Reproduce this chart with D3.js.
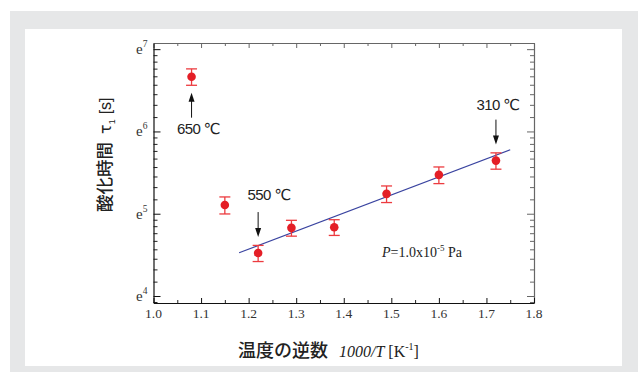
<!DOCTYPE html>
<html>
<head>
<meta charset="utf-8">
<script src="https://cdn.jsdelivr.net/npm/d3@7"></script>
<style>
  body { margin: 0; background: #fff; }
  svg { display: block; }
</style>
</head>
<body>
<svg id="chart" width="638" height="372"></svg>
<script>
// values
const invT = [1.08, 1.15, 1.22, 1.29, 1.38, 1.49, 1.60, 1.72];   // 1000/T [1/K]
const tau = [785, 165, 92, 125, 126, 189, 238, 283];             // oxidation time [s]
const tauErr = [78, 17, 9, 12, 12, 19, 24, 28];
const fitX = [1.18, 1.75];
const fitTau = [92.4, 323];
const xTicks = [1.0, 1.1, 1.2, 1.3, 1.4, 1.5, 1.6, 1.7, 1.8];
const xMinor = [1.05, 1.15, 1.25, 1.35, 1.45, 1.55, 1.65, 1.75];
const yTickExps = [4, 5, 6, 7];
const notes = [
    { i: 0, label: "650 ℃", dir: 1, dx: 7 },
    { i: 2, label: "550 ℃", dir: -1, dx: 11 },
    { i: 7, label: "310 ℃", dir: -1, dx: 2 }
];

const svg = d3.select("#chart");
const pLeft = 153.5, pRight = 534, pTop = 43, pBottom = 303;

// page frame
svg.append("rect").attr("x", 10).attr("y", 11).attr("width", 628).attr("height", 361).attr("fill", "#e6e7e8");
svg.append("rect").attr("x", 25).attr("y", 29).attr("width", 597).attr("height", 337).attr("fill", "#fff");

const x = d3.scaleLinear().domain([1.0, 1.8]).range([pLeft, pRight]);
const y = d3.scaleLog().base(Math.E)
    .domain([Math.exp(3.915), Math.exp(7.075)])
    .range([pBottom, pTop]);

// minor y ticks: 8 linear steps between powers of e
const yMinor = [];
for (let k = 3; k <= 7; k++) {
    const a = Math.exp(k), b = Math.exp(k + 1);
    for (let n = 1; n <= 8; n++) {
        const v = a + n * (b - a) / 9;
        if (v > y.domain()[0] && v < y.domain()[1]) yMinor.push(v);
    }
}
const yMajor = yTickExps.map(e => Math.exp(e));

function styleAxis(g, color) {
    g.select(".domain").attr("stroke", color).attr("stroke-width", 1.2);
    g.selectAll(".tick line").attr("stroke", color);
    g.selectAll("text").remove();
}

// minor ticks first
svg.append("g").attr("transform", `translate(0,${pBottom})`)
    .call(d3.axisBottom(x).tickValues(xMinor).tickSize(-3).tickSizeOuter(0))
    .call(g => { styleAxis(g, "#222"); g.select(".domain").remove(); });
svg.append("g").attr("transform", `translate(0,${pTop})`)
    .call(d3.axisTop(x).tickValues(xMinor).tickSize(-3).tickSizeOuter(0))
    .call(g => { styleAxis(g, "#666"); g.select(".domain").remove(); });
svg.append("g").attr("transform", `translate(${pLeft},0)`)
    .call(d3.axisLeft(y).tickValues(yMinor).tickSize(-4).tickSizeOuter(0))
    .call(g => { styleAxis(g, "#222"); g.select(".domain").remove(); });
svg.append("g").attr("transform", `translate(${pRight},0)`)
    .call(d3.axisRight(y).tickValues(yMinor).tickSize(-4).tickSizeOuter(0))
    .call(g => { styleAxis(g, "#666"); g.select(".domain").remove(); });

// major ticks + frame
svg.append("g").attr("transform", `translate(0,${pTop})`)
    .call(d3.axisTop(x).tickValues(xTicks).tickSize(-5).tickSizeOuter(0))
    .call(g => styleAxis(g, "#666"));
svg.append("g").attr("transform", `translate(${pRight},0)`)
    .call(d3.axisRight(y).tickValues(yMajor).tickSize(-7).tickSizeOuter(0))
    .call(g => styleAxis(g, "#666"));
svg.append("g").attr("transform", `translate(0,${pBottom})`)
    .call(d3.axisBottom(x).tickValues(xTicks).tickSize(-5).tickSizeOuter(0))
    .call(g => styleAxis(g, "#111"));
svg.append("g").attr("transform", `translate(${pLeft},0)`)
    .call(d3.axisLeft(y).tickValues(yMajor).tickSize(-7).tickSizeOuter(0))
    .call(g => styleAxis(g, "#111"));

// tick labels
svg.append("g").selectAll("text")
    .data(xTicks)
    .enter().append("text")
    .attr("x", d => x(d))
    .attr("y", 318)
    .attr("text-anchor", "middle")
    .attr("font-family", "Liberation Serif, serif")
    .attr("font-size", "13.5px")
    .attr("fill", "#333")
    .text(d => d3.format(".1f")(d));

const yl = svg.append("g").selectAll("text")
    .data(yTickExps)
    .enter().append("text")
    .attr("x", 136)
    .attr("y", d => y(Math.exp(d)) + 5)
    .attr("font-family", "Liberation Serif, serif")
    .attr("font-size", "15px")
    .attr("fill", "#333");
yl.append("tspan").text("e");
yl.append("tspan").attr("dy", -7).attr("font-size", "9.5px").text(d => d);

// fit line
svg.append("line")
    .attr("x1", x(fitX[0])).attr("y1", y(fitTau[0]))
    .attr("x2", x(fitX[1])).attr("y2", y(fitTau[1]))
    .attr("stroke", "#3a44a0")
    .attr("stroke-width", 1.2);

// error bars
const pts = invT.map((d, i) => ({ x: d, t: tau[i], e: tauErr[i] }));
const eb = svg.append("g").attr("stroke", "#ec3b3f").attr("stroke-width", 1.3);
eb.selectAll(".v").data(pts).enter().append("line")
    .attr("x1", d => x(d.x)).attr("x2", d => x(d.x))
    .attr("y1", d => y(d.t - d.e)).attr("y2", d => y(d.t + d.e));
eb.selectAll(".t").data(pts).enter().append("line")
    .attr("x1", d => x(d.x) - 5.5).attr("x2", d => x(d.x) + 5.5)
    .attr("y1", d => y(d.t + d.e)).attr("y2", d => y(d.t + d.e));
eb.selectAll(".b").data(pts).enter().append("line")
    .attr("x1", d => x(d.x) - 5.5).attr("x2", d => x(d.x) + 5.5)
    .attr("y1", d => y(d.t - d.e)).attr("y2", d => y(d.t - d.e));

svg.append("g").selectAll("circle")
    .data(pts)
    .enter().append("circle")
    .attr("cx", d => x(d.x))
    .attr("cy", d => y(d.t))
    .attr("r", 4.3)
    .attr("fill", "#e41e26");

// temperature annotations, arrows point at the data point
notes.forEach(n => {
    const px = x(invT[n.i]), py = y(tau[n.i]);
    const tip = py + n.dir * 16, tail = py + n.dir * 41;
    svg.append("line")
        .attr("x1", px).attr("x2", px)
        .attr("y1", tail).attr("y2", tip + n.dir * 6)
        .attr("stroke", "#111").attr("stroke-width", 1);
    svg.append("path")
        .attr("d", `M${px},${tip} L${px - 3},${tip + n.dir * 9} L${px + 3},${tip + n.dir * 9} Z`)
        .attr("fill", "#111");
    svg.append("text")
        .attr("x", px + n.dx)
        .attr("y", n.dir > 0 ? py + 57 : py - 51 - (n.i === 2 ? 2 : 0))
        .attr("text-anchor", "middle")
        .attr("font-family", "Liberation Sans, DejaVu Sans, sans-serif")
        .attr("font-size", "15px")
        .attr("letter-spacing", "-0.6px")
        .attr("fill", "#222")
        .text(n.label);
});

// pressure note
const pn = svg.append("text")
    .attr("x", 382).attr("y", 257)
    .attr("font-family", "Liberation Serif, serif")
    .attr("font-size", "14px")
    .attr("fill", "#222");
pn.append("tspan").attr("font-style", "italic").text("P");
pn.append("tspan").text("=1.0x10");
pn.append("tspan").attr("dy", -6).attr("font-size", "9px").text("-5");
pn.append("tspan").attr("dy", 6).text(" Pa");

// axis titles
const xt = svg.append("text")
    .attr("x", 238).attr("y", 357)
    .attr("fill", "#222");
xt.append("tspan")
    .attr("font-family", "Noto Sans CJK JP, sans-serif")
    .attr("font-weight", 500)
    .attr("font-size", "18px")
    .text("温度の逆数");
xt.append("tspan")
    .attr("dx", 11)
    .attr("font-family", "Liberation Serif, serif")
    .attr("font-style", "italic")
    .attr("font-size", "16px")
    .text("1000/T");
xt.append("tspan")
    .attr("font-family", "Liberation Serif, serif")
    .attr("font-size", "16px")
    .text(" [K");
xt.append("tspan")
    .attr("dy", -7)
    .attr("font-family", "Liberation Serif, serif")
    .attr("font-size", "10px")
    .text("-1");
xt.append("tspan")
    .attr("dy", 7)
    .attr("font-family", "Liberation Serif, serif")
    .attr("font-size", "16px")
    .text("]");

const ytl = svg.append("text")
    .attr("transform", "translate(111,212) rotate(-90)")
    .attr("fill", "#222");
ytl.append("tspan")
    .attr("font-family", "Noto Sans CJK JP, sans-serif")
    .attr("font-weight", 500)
    .attr("font-size", "17.5px")
    .text("酸化時間");
ytl.append("tspan")
    .attr("dx", 8)
    .attr("font-family", "DejaVu Sans, sans-serif")
    .attr("font-size", "16px")
    .text("τ");
ytl.append("tspan")
    .attr("dy", 4)
    .attr("font-family", "Liberation Sans, sans-serif")
    .attr("font-size", "9px")
    .text("1");
ytl.append("tspan")
    .attr("dy", -4)
    .attr("dx", 5)
    .attr("font-family", "Liberation Sans, sans-serif")
    .attr("font-size", "16px")
    .text("[s]");
</script>
</body>
</html>
